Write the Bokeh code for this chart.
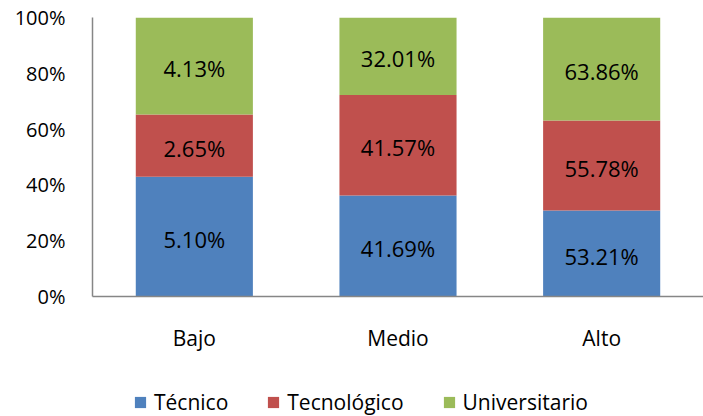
from bokeh.plotting import figure
from bokeh.layouts import column
from bokeh.models import (ColumnDataSource, LabelSet, Legend, LegendItem, FixedTicker,
                          PrintfTickFormatter, Range1d, FactorRange)
from bokeh.core.properties import value
from bokeh.embed import file_html
from bokeh.resources import INLINE

categories = ["Bajo", "Medio", "Alto"]
series_names = ["Técnico", "Tecnológico", "Universitario"]
tecnico = [5.10, 41.69, 53.21]
tecnologico = [2.65, 41.57, 55.78]
universitario = [4.13, 32.01, 63.86]
colors = ["#4F81BD", "#C0504D", "#9BBB59"]
y_ticks = [0, 20, 40, 60, 80, 100]

FONT = "Open Sans"
AXIS_GREY = "#868686"

keys = ["tec", "tecno", "univ"]
raw = {"tec": tecnico, "tecno": tecnologico, "univ": universitario}
totals = [a + b + c for a, b, c in zip(tecnico, tecnologico, universitario)]
data = {"cat": categories}
for k in keys:
    data[k] = [v / t * 100 for v, t in zip(raw[k], totals)]
src = ColumnDataSource(data)

# label table
lx, ly, lt = [], [], []
for i, c in enumerate(categories):
    base = 0.0
    for k in keys:
        h = data[k][i]
        lx.append(c)
        ly.append(base + h / 2)
        lt.append(f"{raw[k][i]:.2f}%")
        base += h
lsrc = ColumnDataSource(dict(x=lx, y=ly, text=lt))

p = figure(x_range=FactorRange(*categories), y_range=Range1d(0, 100),
           width=703, height=380, output_backend="svg", toolbar_location=None,
           min_border_left=92, min_border_right=0, min_border_top=17, min_border_bottom=84)

renderers = p.vbar_stack(keys, x="cat", width=0.575, fill_color=colors,
                         line_color=None, source=src)

labels = LabelSet(x="x", y="y", text="text", source=lsrc, text_align="center",
                  text_baseline="middle", text_font=value(FONT), text_font_size="22px",
                  text_color="black", y_offset=-2)
p.add_layout(labels)

p.xgrid.visible = False
p.ygrid.visible = False
p.outline_line_color = None
p.background_fill_color = "white"
p.border_fill_color = "white"

p.yaxis.ticker = FixedTicker(ticks=y_ticks)
p.yaxis.formatter = PrintfTickFormatter(format="%d%%")
p.yaxis.major_tick_line_color = None
p.yaxis.minor_tick_line_color = None
p.yaxis.major_label_standoff = 21
p.yaxis.major_label_text_font = FONT
p.yaxis.major_label_text_font_size = "20px"
p.yaxis.major_label_text_color = "black"
p.yaxis.axis_line_color = AXIS_GREY
p.yaxis.axis_line_width = 1.5

p.xaxis.major_tick_line_color = None
p.xaxis.minor_tick_line_color = None
p.xaxis.major_label_standoff = 21
p.xaxis.major_label_text_font = FONT
p.xaxis.major_label_text_font_size = "21px"
p.xaxis.major_label_text_color = "black"
p.xaxis.axis_line_color = AXIS_GREY
p.xaxis.axis_line_width = 1.5

# legend strip below the chart (its frame is aligned with the chart's frame);
# its y range lies far above the data so the bars themselves stay out of view
lg = figure(width=703, height=36, output_backend="svg", toolbar_location=None,
            x_range=FactorRange(*categories), y_range=Range1d(1000, 1036),
            x_axis_type=None, y_axis_type=None,
            min_border_left=92, min_border_right=0, min_border_top=0, min_border_bottom=0)
lg.xgrid.visible = False
lg.ygrid.visible = False
lg.outline_line_color = None
lg.border_fill_color = "white"
leg_renderers = lg.vbar_stack(keys, x="cat", width=0.575, fill_color=colors,
                              line_color=None, source=src)
items = [LegendItem(label=n, renderers=[r]) for n, r in zip(series_names, leg_renderers)]
legend = Legend(items=items, orientation="horizontal", location=(41, 0),
                glyph_width=14, glyph_height=14, label_standoff=7, spacing=38,
                padding=0, margin=0, border_line_color=None, background_fill_alpha=0,
                label_text_font=FONT, label_text_font_size="21px", label_text_color="black",
                label_text_line_height=1.0)
lg.add_layout(legend)

layout = column(p, lg, spacing=0)
open("out.html", "w").write(file_html(layout, INLINE))
